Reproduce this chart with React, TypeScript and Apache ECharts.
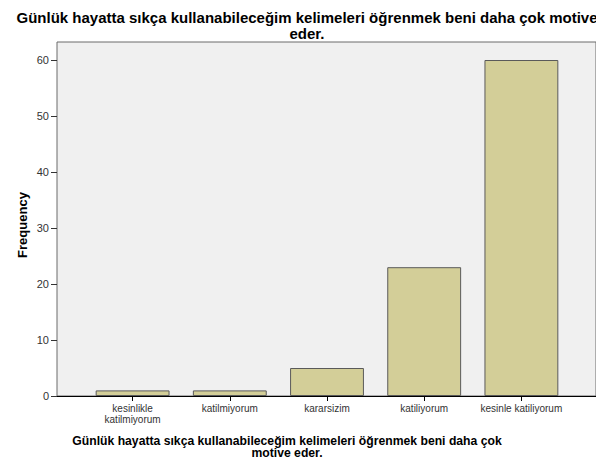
import React, { useEffect, useRef } from "react";
import * as echarts from "echarts";

const chartTitle = "Günlük hayatta sıkça kullanabileceğim kelimeleri öğrenmek beni daha çok motive\neder.";
const xTitle = "Günlük hayatta sıkça kullanabileceğim kelimeleri öğrenmek beni daha çok\nmotive eder.";
const yTitle = "Frequency";
const categories = ["kesinlikle\nkatilmiyorum", "katilmiyorum", "kararsizim", "katiliyorum", "kesinle katiliyorum"];
const frequencies = [1, 1, 5, 23, 60];
const yMin = 0;
const yMax = 60;
const yInterval = 10;

const FONT = "'Liberation Sans', Arial, sans-serif";

export default function App() {
  const ref = useRef<HTMLDivElement>(null);
  useEffect(() => {
    if (!ref.current) return;
    const chart = echarts.init(ref.current, null, { renderer: "svg" });
    chart.setOption({
      animation: false,
      backgroundColor: "#ffffff",
      title: {
        text: chartTitle,
        left: 302,
        top: 4,
        textAlign: "center",
        textStyle: { fontFamily: FONT, fontSize: 15, fontWeight: "bold", color: "#000", lineHeight: 16 },
      },
      grid: [
        { left: 57, top: 42, width: 540, height: 354, show: true, backgroundColor: "#f0f0f0", borderColor: "#6a6a6a", borderWidth: 1 },
        { left: 84, top: 60, width: 486, height: 336 },
        { left: 57, top: 60, width: 540, height: 336 },
      ],
      xAxis: [
        { gridIndex: 0, type: "value", show: false },
        {
          gridIndex: 1,
          type: "category",
          data: categories,
          axisLine: { show: false },
          axisTick: { show: true, alignWithLabel: true, length: 5, lineStyle: { color: "#000" } },
          axisLabel: { fontFamily: FONT, fontSize: 10, lineHeight: 11, color: "#333", margin: 7, interval: 0 },
        },
        {
          gridIndex: 2,
          type: "value",
          axisLine: { show: true, lineStyle: { color: "#000", width: 1 } },
          axisTick: { show: false },
          axisLabel: { show: false },
          splitLine: { show: false },
        },
      ],
      yAxis: [
        { gridIndex: 0, type: "value", show: false },
        { gridIndex: 1, type: "value", min: yMin, max: yMax, interval: yInterval, show: false },
        {
          gridIndex: 2,
          type: "value",
          min: yMin,
          max: yMax,
          interval: yInterval,
          axisLine: { show: false },
          axisTick: { show: true, length: 6, lineStyle: { color: "#333" } },
          axisLabel: { fontFamily: FONT, fontSize: 11, color: "#333", margin: 8 },
          splitLine: { show: false },
        },
      ],
      series: [
        {
          type: "bar",
          xAxisIndex: 1,
          yAxisIndex: 1,
          data: frequencies,
          barCategoryGap: "24%",
          itemStyle: { color: "#d3ce98", borderColor: "#5a5a5a", borderWidth: 1 },
        },
      ],
      graphic: [
        {
          type: "text",
          x: 287,
          y: 447,
          style: {
            text: xTitle,
            font: `bold 12.2px ${FONT}`,
            fill: "#000",
            align: "center",
            verticalAlign: "middle",
            lineHeight: 12.5,
          },
        },
        {
          type: "text",
          x: 22,
          y: 225,
          rotation: Math.PI / 2,
          style: {
            text: yTitle,
            font: `bold 13px ${FONT}`,
            fill: "#000",
            align: "center",
            verticalAlign: "middle",
          },
        },
      ],
    });
    return () => chart.dispose();
  }, []);
  return <div ref={ref} style={{ position: "fixed", left: 0, top: 0, width: 596, height: 466 }} />;
}
